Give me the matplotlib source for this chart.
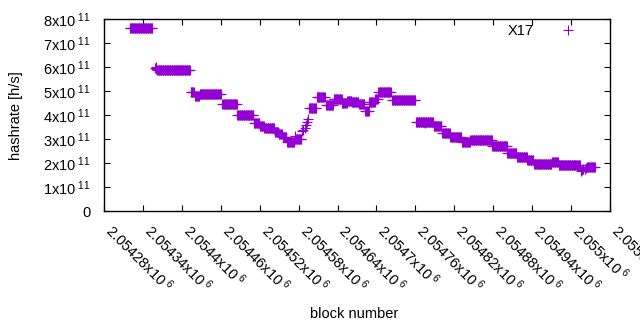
import numpy as np
import matplotlib
matplotlib.use("Agg")
import matplotlib.pyplot as plt

plt.rcParams['font.family'] = ['Liberation Sans', 'DejaVu Sans']
plt.rcParams['mathtext.fontset'] = 'custom'
plt.rcParams['mathtext.rm'] = 'Liberation Sans'
plt.rcParams['mathtext.it'] = 'Liberation Sans:italic'

# Piecewise-constant hashrate runs (block ranges, value in 1e11 h/s)
seg_start = [2054319, 2054362, 2054413, 2054420, 2054427, 2054462, 2054485, 2054494,
             2054511, 2054520, 2054527, 2054543, 2054549, 2054555, 2054562, 2054574,
             2054596, 2054608, 2054622, 2054634, 2054647, 2054655, 2054662, 2054673,
             2054683, 2054689, 2054698, 2054703, 2054724, 2054761, 2054774, 2054788,
             2054801, 2054814, 2054832, 2054845, 2054858, 2054879, 2054902, 2054917,
             2054933, 2054943, 2054971, 2054981, 2055025]
seg_end = [2054354, 2054412, 2054418, 2054426, 2054460, 2054484, 2054493, 2054510,
           2054519, 2054526, 2054542, 2054548, 2054554, 2054561, 2054573, 2054584,
           2054607, 2054620, 2054633, 2054646, 2054654, 2054661, 2054672, 2054681,
           2054688, 2054697, 2054702, 2054722, 2054760, 2054773, 2054787, 2054800,
           2054813, 2054831, 2054844, 2054857, 2054878, 2054901, 2054916, 2054932,
           2054942, 2054970, 2054980, 2055014, 2055037]
seg_value = [7.62, 5.87, 4.97, 4.80, 4.87, 4.45, 4.02, 3.99,
             3.67, 3.53, 3.45, 3.30, 3.22, 3.07, 2.89, 3.00,
             4.29, 4.75, 4.41, 4.69, 4.51, 4.60, 4.54, 4.48,
             4.16, 4.54, 4.67, 4.95, 4.65, 3.70, 3.71, 3.55,
             3.24, 3.09, 2.88, 2.95, 2.96, 2.70, 2.43, 2.25,
             2.11, 1.96, 2.04, 1.91, 1.84]

# Individual blocks outside the runs
single_block = [2054358, 2054359, 2054360, 2054575, 2054585, 2054587, 2054589,
                2054591, 2054593, 2054595, 2054775, 2055015, 2055017, 2055019,
                2055021, 2055023]
single_value = [5.95, 6.00, 5.93, 3.15, 3.32, 3.40, 3.48,
                3.58, 3.70, 3.82, 3.66, 1.66, 1.70, 1.74,
                1.77, 1.80]

xtick_values = [2054280, 2054340, 2054400, 2054460, 2054520, 2054580, 2054640,
                2054700, 2054760, 2054820, 2054880, 2054940, 2055000, 2055060]
xtick_text = ["2.05428", "2.05434", "2.0544", "2.05446", "2.05452", "2.05458",
              "2.05464", "2.0547", "2.05476", "2.05482", "2.05488", "2.05494",
              "2.055", "2.05506"]
ytick_values = [0, 1, 2, 3, 4, 5, 6, 7, 8]

xs, ys = [], []
for s, e, v in zip(seg_start, seg_end, seg_value):
    b = np.arange(s, e + 1)
    xs.append(b)
    ys.append(np.full(b.shape, v * 1e11))
xs.append(np.array(single_block))
ys.append(np.array(single_value) * 1e11)
x = np.concatenate(xs)
y = np.concatenate(ys)

fig = plt.figure(figsize=(6.4, 3.3), dpi=100)
ax = fig.add_axes([0.163, 0.3606, 0.7898, 0.5809])

color = '#9400D3'
ax.plot(x, y, linestyle='none', marker='+', markersize=6.5, markeredgewidth=0.8,
        color=color, label='X17')

ax.set_xlim(2054280, 2055060)
ax.set_ylim(0, 8e11)

fs = 10.5
ax.set_xticks(xtick_values)
ax.set_xticklabels([t + r"x10$^{\mathregular{\ 6}}$" for t in xtick_text],
                   rotation=-45, ha='left', va='baseline', rotation_mode='anchor', fontsize=fs)
ax.set_yticks([v * 1e11 for v in ytick_values])
ax.set_yticklabels(["0" if v == 0 else f"{v}x10" + r"$^{\mathregular{\ 11}}$" for v in ytick_values],
                   fontsize=fs)

ax.tick_params(direction='in', length=4, width=0.8, top=True, right=True,
               labeltop=False, labelright=False)
ax.tick_params(axis='x', pad=15)
ax.tick_params(axis='y', pad=10)
for sp in ax.spines.values():
    sp.set_linewidth(1.0)

ax.set_xlabel('block number', fontsize=fs)
ax.xaxis.set_label_coords(0.495, -0.5)
ax.set_ylabel('hashrate [h/s]', fontsize=fs)
ax.yaxis.set_label_coords(-0.16, 0.5)

leg = ax.legend(loc='upper right', frameon=False, markerfirst=False, fontsize=fs,
                handlelength=1.5, handletextpad=1.65, borderaxespad=0.3,
                bbox_to_anchor=(0.96, 1.03))

fig.savefig('out.png', dpi=100)
